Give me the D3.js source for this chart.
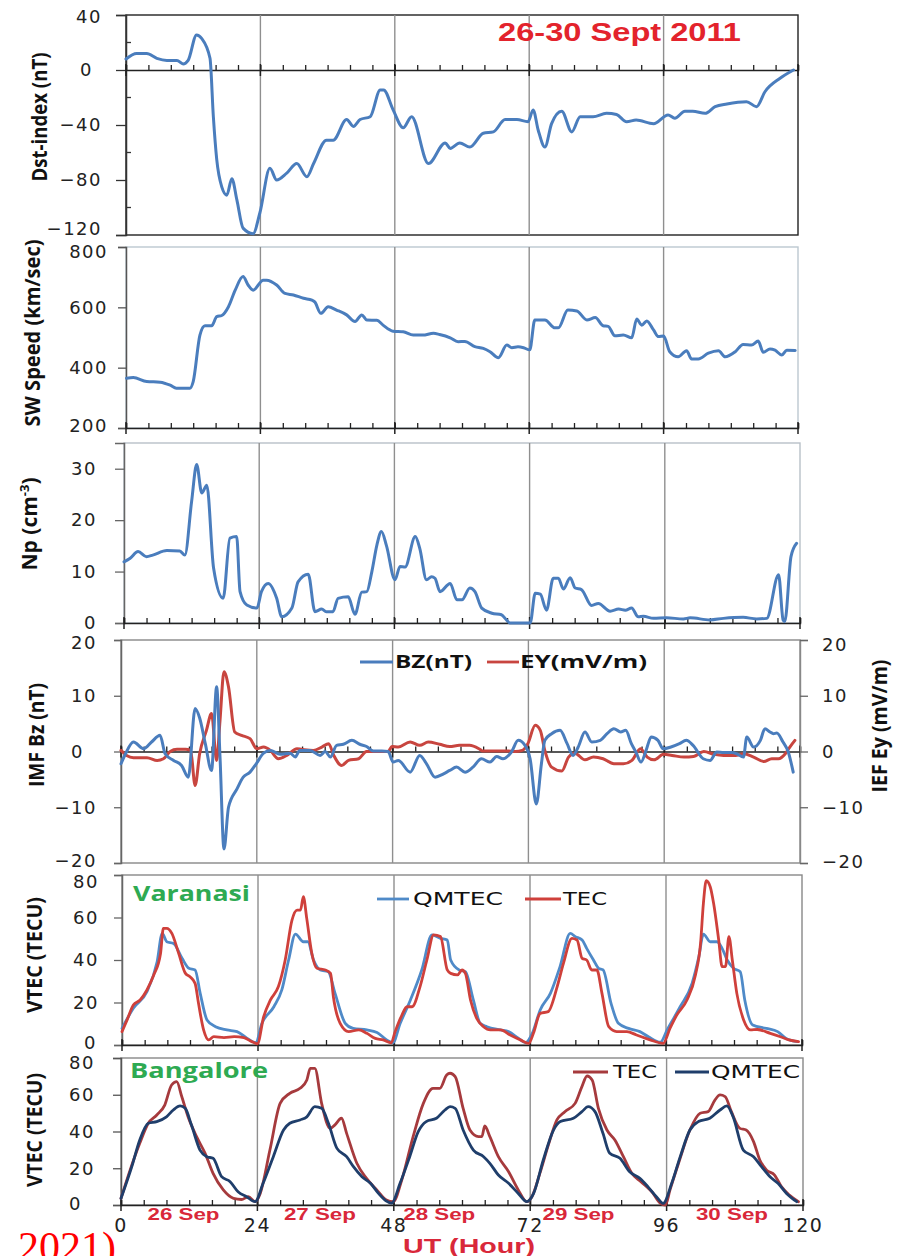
<!DOCTYPE html>
<html>
<head>
<meta charset="utf-8">
<script src="https://cdn.jsdelivr.net/npm/d3@7"></script>
<style>
  body { margin: 0; background: #fff; }
  svg { display: block; }
</style>
</head>
<body>
<svg id="chart" width="903" height="1256"></svg>
<script>
// ---- data (hour UT, value) ----
const hourLabels = [0, 24, 48, 72, 96, 120];
const dayLabels = ['26 Sep', '27 Sep', '28 Sep', '29 Sep', '30 Sep'];
const dayLabelHours = [11, 35, 56, 80.5, 107.5];

const dst = [[0,8],[1.9,12],[3.7,12],[5.5,8.5],[7.3,7],[9.1,7],[10.2,4.4],[11.1,7],[12.6,25.5],[13.5,23],[15,8.5],[15.6,-34],[16.2,-65],[17.1,-85],[18,-91],[18.9,-79],[19.8,-94.5],[20.9,-115],[22.7,-119],[23.9,-104],[25.7,-71.5],[26.9,-80],[28.7,-75],[30.5,-68],[32.3,-77.6],[33.5,-68],[35.8,-51],[37,-51],[39.4,-36],[40.6,-41],[41.8,-36],[43.6,-34],[45.4,-14.5],[46,-14.5],[47.7,-29],[49.5,-42],[51,-34],[54,-68],[57,-53],[57.9,-57],[59.6,-53],[61.4,-56],[63.8,-46],[65.6,-45],[67.7,-36],[69.8,-36],[71.8,-37.6],[72.7,-29],[73.6,-43.6],[74.8,-56],[76,-39],[77.8,-30],[79.6,-45],[81.1,-34],[83.4,-34],[85.8,-31.5],[87.6,-32.4],[89.4,-37.6],[91.1,-36.4],[94.2,-39],[96.8,-32.7],[98,-35],[99.8,-30],[101.2,-30],[103.4,-31.5],[105.2,-26.7],[107.3,-24.7],[110.8,-23],[112.6,-26.7],[114.1,-15.8],[116.8,-6],[119.2,0]];

const swSpeed = [[0.1,365],[1.3,367],[3.7,354],[6.1,352],[7.9,342],[9,332],[11.4,332],[12,354],[13.2,508],[14.1,539],[15.3,539],[16.2,569],[17.1,573],[18.3,602],[19.5,657],[20.9,702],[21.8,674],[22.7,657],[24.5,690],[25.1,690],[26.9,674],[28.4,646],[29.9,641],[31.7,630],[33.2,624],[33.7,618],[34.8,580],[36.1,602],[37.6,591],[39.4,575],[40.9,553],[42.1,575],[43,558],[44.8,557],[45.9,541],[47.7,521],[49.5,519],[51.3,508],[53,508],[54.9,514],[56,510],[57.9,499],[59.3,486],[60.5,487],[62.3,470],[63.8,464],[65,453],[66.5,433],[68,475],[68.9,466],[70,469],[71,466],[72.1,459],[73,558],[74.8,558],[76.6,532],[77.2,532],[78.9,591],[80.5,588],[82.3,558],[83.8,566],[85.2,539],[86.1,537],[87.3,506],[88.8,508],[90.3,499],[91.2,561],[92.1,541],[93,555],[94.2,525],[95.1,503],[96,505],[97.1,453],[98.6,436],[100.1,456],[101,429],[102.2,429],[104,448],[105.8,456],[107,436],[108.8,453],[110.2,477],[111.7,475],[112.9,488],[113.8,451],[115,462],[115.9,458],[117.1,442],[118,458],[119.5,457]];

const np = [[0,11.9],[1.1,12.6],[2.5,13.9],[4,12.9],[5.1,13.2],[7.6,14.1],[9.9,14],[10.8,13.2],[12,23.6],[12.9,30.8],[13.8,25.3],[14.7,26.8],[15.9,10.7],[17.6,4.8],[18.8,16.5],[20,16.8],[20.6,6.1],[21.8,3.5],[23.6,2.9],[24.4,6.1],[25.6,7.7],[27.1,4.8],[28,1.2],[29.8,2.9],[30.9,8],[32.7,9.5],[33.9,2.2],[35.1,2.7],[35.9,2.2],[37.1,2.2],[38,4.8],[39.8,5.1],[41,1.7],[42.2,6],[43.1,6.1],[44,10],[44.9,15.2],[45.7,17.8],[46.6,15],[48.1,8.4],[49,11],[49.9,10.9],[51.7,16.8],[52.5,14.5],[53.7,8.4],[54.6,9],[55.2,8.7],[56.1,6.1],[57.9,7.7],[59.1,4.5],[60,4.5],[61.4,6.8],[62.3,6.1],[63.5,2.9],[65.3,1.9],[67,1.6],[67.9,0.6],[68.5,0],[72.1,0],[73,5.8],[73.9,5.6],[75,2.5],[76.2,8.7],[77.1,8.7],[78,6.6],[79.2,8.8],[80.1,6.8],[81.2,6.5],[83,3.4],[84.2,3.8],[86.3,2.3],[87.8,2.7],[89,2.5],[90.1,2.9],[91.3,1.2],[92.2,1.3],[94,0.9],[96.3,1],[99.3,0.8],[100.5,1],[104,0.6],[106.4,0.9],[109.9,1.1],[112.3,0.8],[114.1,0.9],[116.2,9.4],[117,0.6],[117.3,0.3],[118.4,12.9],[119.4,15.5]];

const bz = [[0,-2.2],[0.8,-0.4],[2.2,1.7],[4,0.5],[5.4,1.7],[6.9,2.9],[7.8,-0.4],[9.3,-1.6],[10.7,-2.5],[11.9,-4.6],[13.1,7.7],[13.9,6],[14.9,1.4],[16,-3.4],[16.9,11.6],[17.5,-1],[18.2,-17.5],[19,-10],[20.5,-6.7],[21.6,-4.6],[22.8,-3.7],[23.9,-2.2],[25.2,-0.3],[26.4,0.2],[28.1,-0.5],[29.9,-0.3],[30.8,-1],[31.6,0.2],[33.4,0.2],[35.2,-0.7],[36.1,0],[37,-1],[38.1,1.1],[39.3,1.3],[40.8,2],[42.2,1.3],[43.4,0.9],[44.6,0.1],[46.1,0.1],[47.2,0],[48.1,-1.9],[49,-1.6],[51.1,-3.7],[52.8,-0.7],[54,-2.2],[55.5,-4.6],[57,-4],[58.1,-3.4],[59.3,-2.8],[60.8,-3.7],[62.2,-2.8],[63.7,-1.3],[65.2,-1.9],[66.4,-0.9],[67.5,-1.3],[69,-0.1],[70.2,2],[71.4,1.1],[72.3,-1.3],[73.4,-9.4],[74.3,-2.2],[74.9,2],[76.1,3.2],[77.6,3.8],[78.8,1.5],[79.9,-0.7],[80.8,0.8],[82,3.5],[83.2,1.7],[84.7,2],[85.9,3.2],[87.1,4.1],[88.3,3.5],[89.2,3.8],[90.2,1.4],[91,-0.1],[91.9,-1.9],[92.8,0.2],[93.7,2.6],[94.9,2],[95.8,0.5],[97.2,0.8],[98.7,1.4],[99.9,2],[101.1,1.1],[102.9,-1.3],[104.1,-1.6],[105.3,-0.1],[106.5,-0.2],[108,-0.2],[108.8,-0.4],[110,-1],[110.6,2.6],[111.8,0.8],[113,2],[113.8,4.1],[114.7,3.5],[115.3,3.2],[115.9,3.3],[117,1.7],[117.9,0],[118.8,-3.7]];

const ey = [[0,0.2],[1,-0.7],[2.2,-1.1],[4.6,-1.1],[6.4,-1.6],[7.5,-1.3],[8.7,0],[9.9,0.4],[11.4,0.4],[12.3,0.2],[13.1,-6.1],[13.9,-0.4],[15.1,3.8],[16,6.8],[16.9,-1.6],[17.5,5.6],[18.2,14.3],[19,11.6],[20.1,3.5],[21.3,2.9],[22.8,2.3],[24,0.5],[25.2,0.8],[26.4,0.2],[27.8,-1.3],[29.3,-0.7],[31.1,0.5],[31.9,0.4],[34,0.2],[35.5,0.8],[36.7,1.4],[37.6,-0.7],[39,-2.5],[40.2,-1.6],[42,-1.3],[43.4,0],[45.2,0],[47.2,0],[47.9,0.9],[49,0.8],[51.1,1.7],[52.8,1.1],[54.3,1.7],[56.3,1.3],[58.1,0.9],[59.8,1.1],[61.6,1.1],[63.4,0.4],[63.9,0.1],[66.3,0.1],[68.3,0.1],[69.7,0],[70.9,0.2],[71.9,1.4],[73.2,4.7],[74.1,3.8],[74.9,0.2],[76.1,-2.8],[77.9,-3.5],[79.1,-1],[80.2,-0.3],[82,-1.5],[83.5,-1],[85.2,-1.3],[87.1,-2.2],[88.8,-2.2],[90.3,-1.6],[91.8,0.5],[93,-1],[94.2,-1.5],[95.9,-0.5],[97.4,-0.7],[99.5,-1],[101.2,-0.9],[103,0],[104.8,-0.5],[106.5,-0.7],[108.6,-0.7],[110,-0.4],[111.8,-1],[113.6,-1.8],[115,-1.3],[116.2,-1.3],[117.4,-0.4],[118.2,0.8],[119.1,2]];

const varanasiTec = [[0,6.3],[0.9,11.8],[2,18.8],[3.2,21.2],[4.4,25.9],[5.6,32.9],[6.8,43.1],[7.3,54.9],[7.9,54.9],[8.8,52.5],[10,43.1],[11.2,33.7],[12,32.1],[12.9,29],[13.5,19.6],[14.4,7.1],[15.3,2.4],[16.2,3.9],[18,3.5],[19.8,3.9],[21.5,3.5],[22.9,1.6],[23.9,0.6],[25,13.3],[26.2,21.2],[27.6,27.5],[28.8,40],[30,58.8],[30.9,63.5],[31.5,63.5],[32,69.8],[32.6,59.6],[33.5,43.1],[34.4,36.1],[35.9,35.3],[36.8,33.7],[37.3,22.7],[38.5,10.2],[40,6.3],[41.8,7.1],[43.2,5.5],[44.7,3.1],[46.1,2.4],[47.5,1],[48.2,6.3],[49.4,14.1],[50.3,18],[51.2,18],[52.6,27.5],[53.8,40],[55,51.8],[56.2,51],[57.4,35.3],[58,33.7],[59.2,33],[60,35.3],[60.6,33.7],[61.5,21.2],[62.6,12.5],[63.8,8.6],[65,7.1],[66.8,7.1],[68.5,4.7],[70.3,2.4],[71.8,0.8],[72.6,5.5],[73.8,14.9],[75.2,15.7],[76.8,27.5],[77.9,38.4],[79.4,50.2],[80.3,49.4],[81.2,40.8],[82,40],[82.9,35.3],[83.8,35.3],[84.7,24.3],[85.9,8.6],[87.3,6.3],[89.1,6.3],[90.8,4.7],[93.2,2.4],[95.5,0.8],[96.7,7.8],[97.9,14.1],[99.7,21.2],[101.2,32.9],[102.1,47.9],[102.6,66.7],[103.1,77.3],[103.8,74.5],[104.4,66.7],[105.3,49.4],[105.9,36.9],[106.5,36.9],[107.1,51],[107.7,40],[108.5,24.3],[109.7,11.8],[110.9,7.1],[112.1,7.3],[114.4,5.5],[116.2,3.9],[117.7,2.4],[119.4,1.6]];

const varanasiQm = [[0,7.8],[2,17.3],[4.4,25.1],[6.2,39.2],[7.1,52.5],[7.9,48.6],[9.1,47.8],[10.6,40.8],[11.8,36.1],[12.9,35.3],[13.8,24.3],[15,11.8],[16.5,8.6],[18.5,7.1],[20.3,6.3],[22.1,3.1],[23.6,1.1],[24.7,10.2],[26.8,18],[28.2,25.9],[29.4,40],[30.6,52.2],[32,48.6],[32.8,48.6],[33.8,40],[35,35.3],[36.4,34.5],[37.6,24.3],[39.4,10.2],[40.8,7.8],[43.2,7.1],[45,5.9],[46.7,2.4],[47.8,1.1],[49.1,10.2],[50.9,21.2],[52.9,35.3],[54.7,51.8],[56.2,50.2],[57.4,49.4],[58,40],[59.5,35.3],[60.6,34.5],[62,21.2],[63.2,10.2],[64.4,8.6],[66.8,7.1],[68.2,6.3],[70,3.1],[71.2,1.1],[72.4,5.5],[73.8,16.5],[75.6,24.3],[77.3,36.9],[79.1,52.5],[80,51],[81.2,49.4],[82,45.5],[83.2,40],[84.1,36.1],[84.9,35.3],[86.3,19.6],[87.6,10.2],[89.4,7.8],[91.4,6.3],[92.9,3.9],[95,1.3],[96.2,7.1],[98.5,18],[100.6,29],[101.8,41.6],[102.6,52.2],[103.8,48.6],[105,48.6],[105.9,45.5],[106.8,40],[107.9,36.1],[109.1,34.5],[109.9,21.2],[111.3,9.4],[113.7,7.8],[115.7,6.3],[117.2,3.1],[119.2,1.6]];

const bangaloreTec = [[0,3.6],[1.6,19],[3.3,33.6],[4.8,44.5],[6.3,49],[7.7,54.4],[8.9,65.3],[9.8,67.1],[10.7,58.9],[11.8,48],[13.3,37.2],[14.8,28.1],[16.2,17.2],[18,8.2],[19.8,3.6],[21.2,3],[22.4,4.5],[23.6,1.8],[24.5,6.3],[26.2,29.9],[28,55.3],[29.7,60.8],[31.5,63.5],[32.7,68],[33.3,74.4],[34.1,74.4],[35.3,55.3],[36.8,41.7],[37.6,43.5],[38.8,47.2],[39.7,39],[41.5,22.7],[43.2,14.5],[45,8.2],[46.7,2.7],[47.9,1.8],[49.4,13.6],[51.4,37.2],[53.2,55.3],[54.9,63.5],[56.1,63.5],[57.3,70.7],[57.9,71.7],[58.8,69.9],[60.2,52.6],[61.4,40.8],[62.9,37.2],[63.5,37.2],[64,43],[64.9,37.2],[66.4,26.3],[68.2,18.1],[69.9,8.2],[71.4,1.8],[72.3,4.5],[73.7,17.2],[75.2,32.7],[76.7,46.3],[78.1,50.8],[79.9,55.3],[81.1,64.4],[82,70.2],[82.9,68],[84,52.6],[85.5,40.8],[86.9,35.4],[88.4,26.3],[89.9,17.2],[91.1,13.6],[92.5,10],[93.4,7.2],[94.9,0.9],[95.8,0],[96.6,8.2],[98.1,22.7],[100.1,40.8],[101.9,49.9],[103.3,50.8],[104.5,57.1],[105.4,59.9],[106.3,59],[107.4,50.8],[108.9,41.7],[110,40.8],[111.3,34.5],[112.4,24.5],[113.6,19],[115,16.3],[116.2,10],[117.6,5.4],[119.2,1.8]];

const bangaloreQm = [[0,3.6],[1.9,20.9],[3.3,35.4],[4.8,44.5],[6.3,45.4],[8,48],[9.2,51.7],[10.4,53.9],[11.3,52.6],[12.4,43.5],[13.9,29.9],[15.1,26.3],[16.2,25.4],[17.7,15.4],[19.2,12.7],[20.6,7.2],[22.1,4.5],[23.6,1.8],[25,11.8],[26.8,26.3],[28.6,40.8],[29.7,44.5],[31.5,46.3],[32.7,48],[34.1,53.5],[35.3,52.6],[36.5,44.5],[38,30.8],[39.7,26.3],[40.9,20.9],[42.4,15.4],[43.9,11.8],[45.3,6.3],[46.7,2.1],[47.6,1],[49.1,11.8],[50.8,26.3],[52.3,39.9],[53.7,45.4],[55.5,47.2],[57,51.7],[57.9,53.5],[58.8,52.6],[60.2,40.8],[62,29.9],[63.8,26.3],[64.9,22.7],[66.4,16.3],[68.2,11.8],[69.9,6.3],[71.4,1.8],[72.6,6.3],[74.3,24.5],[76.1,40.8],[77.3,45.4],[79.6,47.2],[81.1,50.8],[82.2,53.5],[83.4,50.8],[84.8,39],[86,28.1],[87.8,25.4],[89.5,18.1],[91.3,14.5],[92.7,10],[94.2,4.5],[95.4,0.9],[96.9,11.8],[98.4,26.3],[100.1,40.8],[101.6,45.4],[103.6,47.2],[105.4,51.7],[106.6,53.9],[107.7,48],[109.5,29.9],[111.3,26.3],[112.7,20.9],[114.2,15.4],[115.6,11.8],[117.1,6.3],[118.9,1.8]];

// ---- styling ----
const BLUE = '#4a7dbd';
const RED = '#c8453f';
const tickFont = '"DejaVu Sans", sans-serif';
const titleFont = '"Open Sans", "Liberation Sans", sans-serif';

const panels = [
  { left: 126, right: 798, top: 15, bottom: 235, domain: [-120, 40], ticks: [40, 0, -40, -80, -120], minor: [20, -20, -60, -100],
    axisAt: 0, border: '#222', leftAxis: '#333', labelEnd: 102, zeroShift: 9, tickSize: 10, nudgeTop: 2, nudgeBottom: -6,
    title: 'Dst-index (nT)', tx: 40, ty: 117, tlen: 129,
    series: [{ data: dst, color: BLUE, w: 3 }] },
  { left: 126, right: 798, top: 247, bottom: 428, domain: [200, 800], ticks: [800, 600, 400, 200], minor: [],
    axisAt: 200, border: '#bcc8d0', leftAxis: '#555', labelEnd: 108, zeroShift: 0, tickSize: 8, nudgeTop: 5, nudgeBottom: -2,
    title: 'SW Speed (km/sec)', tx: 33, ty: 333, tlen: 187,
    series: [{ data: swSpeed, color: BLUE, w: 3 }] },
  { left: 124, right: 800, top: 443, bottom: 623, domain: [0, 35], ticks: [30, 20, 10, 0], minor: [],
    axisAt: 0, border: '#b8c0c8', leftAxis: '#666', labelEnd: 97, zeroShift: 0, tickSize: 9, nudgeTop: 0, nudgeBottom: 0,
    title: null, tx: 30, ty: 524,
    series: [{ data: np, color: BLUE, w: 3 }] },
  { left: 121, right: 800, top: 640, bottom: 863, domain: [-20, 20], ticks: [20, 10, 0, -10, -20], minor: [],
    axisAt: 0, border: '#888', leftAxis: '#666', labelEnd: 97, zeroShift: 13, tickSize: 7, nudgeTop: 3, nudgeBottom: -2,
    title: 'IMF Bz (nT)', tx: 37, ty: 735, tlen: 104,
    series: [{ data: ey, color: RED, w: 3 }, { data: bz, color: BLUE, w: 3 }] },
  { left: 122, right: 802, top: 875, bottom: 1045, domain: [0, 80], ticks: [80, 60, 40, 20, 0], minor: [],
    axisAt: 0, border: '#888', leftAxis: '#666', labelEnd: 99, zeroShift: 2, tickSize: 8, nudgeTop: 7, nudgeBottom: -2,
    title: 'VTEC (TECU)', tx: 35, ty: 955, tlen: 116,
    series: [{ data: varanasiQm, color: '#4f8ac8', w: 2.8 }, { data: varanasiTec, color: '#cf403b', w: 2.8 }] },
  { left: 121, right: 803, top: 1058, bottom: 1205, domain: [0, 80], ticks: [80, 60, 40, 20, 0], minor: [],
    axisAt: 0, border: '#888', leftAxis: '#555', labelEnd: 95, zeroShift: 13, tickSize: 8, nudgeTop: 5, nudgeBottom: -1,
    title: 'VTEC (TECU)', tx: 35, ty: 1130, tlen: 114,
    series: [{ data: bangaloreTec, color: '#a63a3d', w: 2.8 }, { data: bangaloreQm, color: '#1f3e6b', w: 2.8 }] }
];

const svg = d3.select('#chart');
svg.append('rect').attr('width', 903).attr('height', 1256).attr('fill', '#fff');

const scales = [];

panels.forEach(p => {
  const x = d3.scaleLinear().domain([0, 120]).range([p.left, p.right]);
  const y = d3.scaleLinear().domain(p.domain).range([p.bottom, p.top]);
  scales.push({ x, y });
  const g = svg.append('g');
  const topTick = p.ticks[0], lowTick = p.ticks[p.ticks.length - 1];

  // frame
  g.append('rect')
    .attr('x', p.left).attr('y', p.top)
    .attr('width', p.right - p.left).attr('height', p.bottom - p.top)
    .attr('fill', 'none').attr('stroke', p.border).attr('stroke-width', 1.4);

  // day separators
  g.selectAll('.vgrid').data([24, 48, 72, 96]).join('line')
    .attr('x1', d => x(d)).attr('x2', d => x(d))
    .attr('y1', p.top).attr('y2', p.bottom)
    .attr('stroke', '#8f8f8f').attr('stroke-width', 1.4);

  // left axis
  const yAxis = d3.axisLeft(y).tickValues(p.ticks).tickSize(p.tickSize)
    .tickPadding(p.left - p.labelEnd - p.tickSize);
  const ya = g.append('g').attr('transform', `translate(${p.left},0)`).call(yAxis);
  ya.select('.domain').attr('stroke', p.leftAxis).attr('stroke-width', 1.5);
  ya.selectAll('.tick line').attr('stroke', p.leftAxis).attr('stroke-width', 1.3);
  ya.selectAll('.tick text')
    .attr('font-family', tickFont).attr('font-size', 18).attr('fill', '#222')
    .attr('letter-spacing', 1.5)
    .attr('dx', d => d === 0 ? -p.zeroShift : 0)
    .attr('y', d => d === topTick ? p.nudgeTop : d === lowTick ? p.nudgeBottom : 0);

  // minor inward ticks
  g.selectAll('.ymin').data(p.minor).join('line')
    .attr('x1', p.left).attr('x2', p.left + 5)
    .attr('y1', d => y(d)).attr('y2', d => y(d))
    .attr('stroke', '#333').attr('stroke-width', 1.3);

  // time axis
  const ay = y(p.axisAt);
  const xAxis = d3.axisTop(x).tickValues(d3.range(0, 121, 4)).tickSize(5).tickFormat('');
  const xa = g.append('g').attr('transform', `translate(0,${ay})`).call(xAxis);
  xa.select('.domain').attr('stroke', '#222').attr('stroke-width', 1.5);
  xa.selectAll('.tick line').attr('stroke', '#222').attr('stroke-width', 1.3);
  g.selectAll('.xmaj').data(hourLabels).join('line')
    .attr('x1', d => x(d)).attr('x2', d => x(d))
    .attr('y1', ay - 6).attr('y2', ay + 6)
    .attr('stroke', '#222').attr('stroke-width', 1.5);

  // series
  const line = d3.line().x(d => x(d[0])).y(d => y(d[1])).curve(d3.curveMonotoneX);
  p.series.forEach(s => {
    g.append('path').datum(s.data)
      .attr('d', line)
      .attr('fill', 'none')
      .attr('stroke', s.color)
      .attr('stroke-width', s.w)
      .attr('stroke-linejoin', 'round')
      .attr('stroke-linecap', 'round');
  });

  // y title
  if (p.title) {
    g.append('text')
      .attr('transform', `translate(${p.tx},${p.ty}) rotate(-90)`)
      .attr('text-anchor', 'middle').attr('dy', '0.35em')
      .attr('font-family', titleFont).attr('font-weight', 700).attr('font-size', 21)
      .attr('fill', '#111')
      .attr('textLength', p.tlen).attr('lengthAdjust', 'spacingAndGlyphs')
      .text(p.title);
  }
});

// Np title with superscript
const npTitle = svg.append('text')
  .attr('transform', `translate(${panels[2].tx},${panels[2].ty}) rotate(-90)`)
  .attr('text-anchor', 'middle').attr('dy', '0.35em')
  .attr('font-family', titleFont).attr('font-weight', 700).attr('font-size', 21).attr('fill', '#111');
npTitle.append('tspan').text('Np (cm');
npTitle.append('tspan').attr('font-size', 13).attr('dy', -8).text('-3');
npTitle.append('tspan').attr('dy', 8).text(')');

// right axis of IMF panel
{
  const p = panels[3], y = scales[3].y;
  const ra = svg.append('g').attr('transform', `translate(${p.right},0)`)
    .call(d3.axisRight(y).tickValues(p.ticks).tickSize(8).tickPadding(14));
  ra.select('.domain').attr('stroke', '#888').attr('stroke-width', 1.4);
  ra.selectAll('.tick line').attr('stroke', '#666').attr('stroke-width', 1.3);
  ra.selectAll('.tick text')
    .attr('font-family', tickFont).attr('font-size', 18).attr('fill', '#222').attr('letter-spacing', 1.5)
    .attr('y', d => d === 20 ? 5 : d === -20 ? -1 : 0);
  svg.append('text')
    .attr('transform', `translate(880,726) rotate(-90)`)
    .attr('text-anchor', 'middle').attr('dy', '0.35em')
    .attr('font-family', titleFont).attr('font-weight', 700).attr('font-size', 21).attr('fill', '#111')
    .attr('textLength', 133).attr('lengthAdjust', 'spacingAndGlyphs')
    .text('IEF Ey (mV/m)');
}

// legends
function legendItem(x1, x2, y, color, label, tx, tlen, bold) {
  svg.append('line').attr('x1', x1).attr('x2', x2).attr('y1', y).attr('y2', y)
    .attr('stroke', color).attr('stroke-width', 2.8);
  svg.append('text').attr('x', tx).attr('y', y).attr('dy', '0.36em')
    .attr('font-family', bold ? titleFont : tickFont)
    .attr('font-weight', bold ? 700 : 400)
    .attr('font-size', 18).attr('fill', '#111')
    .attr('textLength', tlen).attr('lengthAdjust', 'spacingAndGlyphs')
    .text(label);
}
legendItem(360, 393, 662, BLUE, 'BZ(nT)', 395, 77, true);
legendItem(487, 519, 662, RED, 'EY(mV/m)', 520, 127, true);
legendItem(377, 409, 899, '#4f8ac8', 'QMTEC', 413, 90, false);
legendItem(525, 561, 899, '#cf403b', 'TEC', 563, 44, false);
legendItem(573, 608, 1072, '#a63a3d', 'TEC', 613, 44, false);
legendItem(675, 709, 1072, '#1f3e6b', 'QMTEC', 711, 89, false);

// station names
svg.append('text').attr('x', 133).attr('y', 893).attr('dy', '0.36em')
  .attr('font-family', titleFont).attr('font-weight', 700).attr('font-size', 21).attr('fill', '#2eaa52')
  .attr('textLength', 117).attr('lengthAdjust', 'spacingAndGlyphs').text('Varanasi');
svg.append('text').attr('x', 130).attr('y', 1070).attr('dy', '0.36em')
  .attr('font-family', titleFont).attr('font-weight', 700).attr('font-size', 21).attr('fill', '#2eaa52')
  .attr('textLength', 138).attr('lengthAdjust', 'spacingAndGlyphs').text('Bangalore');

// event title
svg.append('text').attr('x', 498).attr('y', 32).attr('dy', '0.36em')
  .attr('font-family', '"Liberation Sans", Arial, sans-serif').attr('font-weight', 700).attr('font-size', 26)
  .attr('fill', '#e3232c')
  .attr('textLength', 243).attr('lengthAdjust', 'spacingAndGlyphs').text('26-30 Sept 2011');

// bottom hour labels and day names
{
  const x = scales[5].x;
  svg.selectAll('.hl').data(hourLabels).join('text')
    .attr('x', d => x(d)).attr('y', 1225).attr('dy', '0.36em')
    .attr('text-anchor', 'middle')
    .attr('font-family', tickFont).attr('font-size', 19).attr('fill', '#222').attr('letter-spacing', 1.5)
    .text(d => d);
  svg.selectAll('.dl').data(dayLabels).join('text')
    .attr('x', (d, i) => x(dayLabelHours[i])).attr('y', 1214).attr('dy', '0.36em')
    .attr('text-anchor', 'middle')
    .attr('font-family', '"Liberation Sans", Arial, sans-serif').attr('font-weight', 700).attr('font-size', 16)
    .attr('fill', '#d9283a')
    .attr('textLength', 72).attr('lengthAdjust', 'spacingAndGlyphs')
    .text(d => d);
  svg.append('text').attr('x', 469).attr('y', 1253)
    .attr('text-anchor', 'middle')
    .attr('font-family', '"Liberation Sans", Arial, sans-serif').attr('font-weight', 700).attr('font-size', 20)
    .attr('fill', '#d9283a')
    .attr('textLength', 132).attr('lengthAdjust', 'spacingAndGlyphs')
    .text('UT (Hour)');
}

// stray caption fragment at lower-left (cut by the page edge, as in the source)
svg.append('text').attr('x', 18).attr('y', 1261)
  .attr('font-family', '"Liberation Serif", "Times New Roman", serif').attr('font-size', 42)
  .attr('fill', '#ff0000').text('2021)');
</script>
</body>
</html>
